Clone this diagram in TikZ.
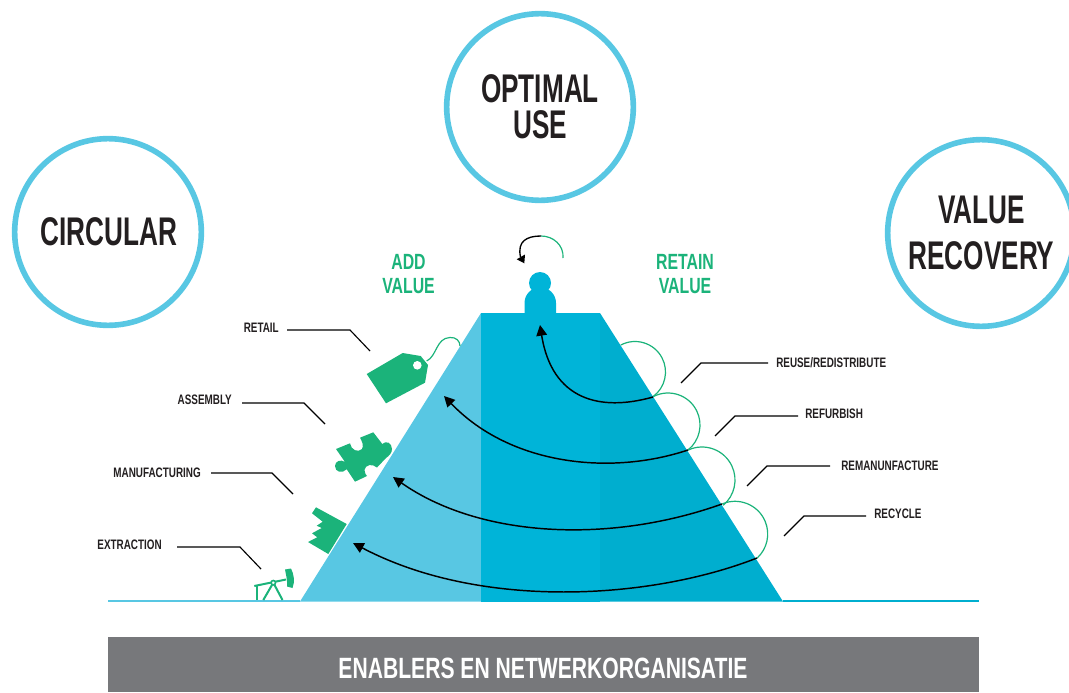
\documentclass[tikz,border=0pt]{standalone}
\usepackage{fontspec}
\setmainfont{Liberation Sans}[FakeStretch=0.72,BoldFont={Liberation Sans Bold}]
\newfontfamily\bigfam{Liberation Sans Bold}[FakeStretch=0.654]
\usetikzlibrary{arrows.meta}
\definecolor{lightb}{HTML}{58C7E3}
\definecolor{midb}{HTML}{00B4D8}
\definecolor{darkb}{HTML}{00AECF}
\definecolor{grn}{HTML}{1BB37A}
\definecolor{ink}{HTML}{231F20}
\definecolor{barg}{HTML}{77787B}
\tikzset{
 bigc/.style={circle,draw=lightb,line width=4.2pt,minimum size=140pt,inner sep=0pt,fill=white},
 bigt/.style={font=\fontsize{30}{27}\selectfont\bigfam,text=ink,align=center,inner sep=0pt},
 bigw/.style={font=\fontsize{30}{34.5}\selectfont\bigfam,text=ink,align=center,inner sep=0pt},
 smt/.style={font=\fontsize{10.3}{12}\selectfont\bfseries,text=ink,inner sep=0pt},
 grt/.style={font=\fontsize{16.5}{18}\selectfont\bfseries,text=grn,align=center,inner sep=0pt},
 leader/.style={draw=black,line width=0.85pt},
 flow/.style={draw=black,line width=1.1pt,-{Triangle[length=8pt,width=8pt]}},
 loopg/.style={draw=grn,line width=0.9pt},
 jack/.style={draw=grn,line width=1.5pt},
}
\begin{document}
\begin{tikzpicture}[x=0.75pt,y=-0.75pt]
\useasboundingbox (0,0) rectangle (1069,692);
\clip (0,0) rectangle (1069,692);
% circles
\node[bigc] (opt) at (540,107) {};
\node[bigc] (cir) at (108,232) {};
\node[bigc] (val) at (981,233) {};
\node[bigt] (optt) at (540,107) {OPTIMAL\\USE};
\node[bigt] (cirt) at (109,232) {CIRCULAR};
\node[bigw] (valt) at (981.5,233) {VALUE\\RECOVERY};
% ground
\fill[lightb] (108,600) rectangle (300,602);
\fill[darkb] (783,600) rectangle (979,602);
% pyramid
\fill[lightb] (300,601.5) -- (481,313) -- (481,601.5) -- cycle;
\fill[midb] (481,313) -- (600,313) -- (600,601.5) -- (481,601.5) -- cycle;
\fill[darkb] (600,313) -- (783,601.5) -- (600,601.5) -- cycle;
% person
\fill[midb] (524.5,313) -- (524.5,303) arc[start angle=180,end angle=360,radius=15.75] -- (556,313) -- cycle;
\fill[midb] (540,283) circle[radius=11];
% bar
\fill[barg] (108,637) rectangle (979,692);
\node[font=\fontsize{22}{26}\selectfont\bfseries,text=white,inner sep=0pt] (bar) at (543,668) {ENABLERS EN NETWERKORGANISATIE};
% group labels
\node[grt] (add) at (408.5,274.5) {ADD\\VALUE};
\node[grt] (ret) at (685,274.5) {RETAIN\\VALUE};
% labels and leaders
\node[smt,anchor=east] (l1) at (279,328) {RETAIL};
\node[smt,anchor=east] (l2) at (232,400) {ASSEMBLY};
\node[smt,anchor=east] (l3) at (201,473) {MANUFACTURING};
\node[smt,anchor=east] (l4) at (162,545) {EXTRACTION};
\node[smt,anchor=west] (r1) at (776,363) {REUSE/REDISTRIBUTE};
\node[smt,anchor=west] (r2) at (805,414) {REFURBISH};
\node[smt,anchor=west] (r3) at (841,466) {REMANUNFACTURE};
\node[smt,anchor=west] (r4) at (874,514) {RECYCLE};
\coordinate (e1) at (370,351); \coordinate (e2) at (325,424); \coordinate (e3) at (293,494); \coordinate (e4) at (261,569);
\coordinate (f1) at (681,383); \coordinate (f2) at (715,436); \coordinate (f3) at (747,486); \coordinate (f4) at (784,536);
\draw[leader] (287,330) -- (350,330) -- (e1);
\draw[leader] (242,403) -- (304,403) -- (e2);
\draw[leader] (211,473) -- (272,473) -- (e3);
\draw[leader] (177,547) -- (240,547) -- (e4);
\draw[leader] (768,363) -- (701,363) -- (f1);
\draw[leader] (798,416) -- (735,416) -- (f2);
\draw[leader] (830,466) -- (767,466) -- (f3);
\draw[leader] (866,516) -- (804,516) -- (f4);
% green loops
\draw[loopg] (635,372) ++(-118:30.5) arc[start angle=-118,end angle=54,radius=30.5];
\draw[loopg] (668,425) ++(-116:32) arc[start angle=-116,end angle=51,radius=32];
\draw[loopg] (702,480) ++(-115:33) arc[start angle=-115,end angle=50,radius=33];
\draw[loopg] (735,534) ++(-113:32.7) arc[start angle=-113,end angle=47.5,radius=32.7];
% flows
\coordinate (a1) at (653,397); \coordinate (t1) at (540,325);
\coordinate (a2) at (688,450); \coordinate (t2) at (444,396);
\coordinate (a3) at (722,504); \coordinate (t3) at (393,477);
\coordinate (a4) at (757,558); \coordinate (t4) at (353,543);
\draw[flow] (a1) .. controls (600,412) and (552,400) .. (t1);
\draw[flow] (a2) .. controls (610,476) and (510,465) .. (t2);
\draw[flow] (a3) .. controls (610,544) and (480,538) .. (t3);
\draw[flow] (a4) .. controls (650,600) and (480,610) .. (t4);
% top turn
\draw[loopg] (563,258) .. controls (564,245) and (553,236) .. (541,236);
\draw[draw=black,line width=1pt] (541,236) .. controls (527,236) and (517,241) .. (520.5,257);
\fill[black] (516.7,259.3) -- (525,254.5) -- (524.3,263.3) -- cycle;
% tag
\fill[grn] (366.7,374) -- (402.7,353) -- (420.7,356) -- (428,365) -- (425,382.7) -- (386,403.3) -- cycle;
\fill[white] (417.3,365.3) circle[radius=4.3];
\draw[grn,line width=0.9pt] (426.7,361) .. controls (437,356) and (436,338) .. (450,337.5) .. controls (456,337) and (460,341) .. (460,346);
% puzzle
\fill[grn] (336,449) -- (350,443.3) .. controls (351,450) and (358,453) .. (362,449) .. controls (364,446) and (362,441) .. (360,437.7) -- (373.3,432.3) -- (382.3,444) .. controls (386,440) and (392,443) .. (392,449) .. controls (392,453) and (389,456) .. (386,458) -- (377,467.5) .. controls (372,463) and (365,465) .. (364.5,470) .. controls (364.5,473) and (366,475) .. (367,476) -- (355,481.7) -- (346.7,469.3) .. controls (342,474) and (335,472) .. (335,466) .. controls (335,461) and (341,459) .. (345,462) -- cycle;
% factory
\fill[grn] (316,507.3) -- (346.7,524) -- (328.3,554) -- (308,542) -- (317.3,537.3) -- (312,533.3) -- (321.7,528) -- (316.7,525.7) -- (322.7,521.7) -- (312,513.3) -- cycle;
% pump jack
\draw[jack] (254.3,586) -- (286,579.5);
\draw[jack] (256.7,586) -- (256.7,600);
\draw[jack] (273.3,582.7) -- (263.3,600);
\draw[jack] (273.3,582.7) -- (282.5,600);
\draw[grn,line width=1.2pt,fill=white] (273.3,582.7) circle[radius=2.2];
\fill[grn] (285,569.5) -- (291,568.5) .. controls (294,574) and (295,582) .. (292.5,588) -- (287,586.5) .. controls (287.5,580) and (286,575) .. (285,569.5) -- cycle;
\end{tikzpicture}
\end{document}
